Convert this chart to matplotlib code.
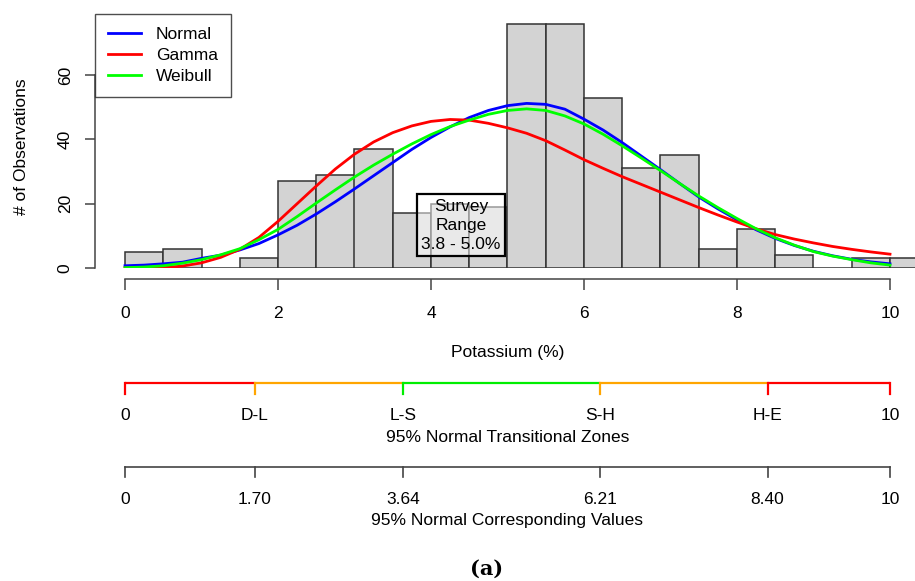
import numpy as np
import matplotlib
matplotlib.use("Agg")
import matplotlib.pyplot as plt

plt.rcParams['font.family'] = ['Liberation Sans', 'DejaVu Sans']

# histogram of potassium (%), bin width 0.5
bin_edges = [0, 0.5, 1, 1.5, 2, 2.5, 3, 3.5, 4, 4.5, 5, 5.5, 6, 6.5, 7, 7.5, 8, 8.5, 9, 9.5, 10, 10.5]
counts = [5, 6, 0, 3, 27, 29, 37, 17, 20, 19, 76, 76, 53, 31, 35, 6, 12, 4, 0, 3, 3]

# fitted curves, x = 0..10 step 0.25
curve_x = [i * 0.25 for i in range(41)]
normal_y = [0.7, 0.9, 1.3, 1.8, 3.0, 4.0, 5.6, 7.6, 10.3, 13.3, 16.8, 20.6, 24.6, 28.7, 32.8,
            36.9, 40.6, 43.9, 46.8, 49.0, 50.5, 51.2, 50.9, 49.4, 46.3, 42.9, 39.0, 34.8, 30.6,
            26.3, 22.1, 18.4, 15.0, 11.9, 9.2, 7.0, 5.2, 3.8, 2.7, 1.9, 1.3]
gamma_y = [0.0, 0.0, 0.1, 0.6, 1.6, 3.3, 5.8, 9.5, 14.5, 20.0, 25.5, 30.8, 35.4, 39.2, 42.1,
           44.2, 45.6, 46.2, 46.0, 45.0, 43.6, 41.9, 39.6, 36.7, 33.7, 31.0, 28.4, 26.0, 23.6,
           21.2, 18.8, 16.5, 14.3, 12.2, 10.4, 9.0, 7.8, 6.7, 5.8, 5.0, 4.3]
weibull_y = [0.1, 0.3, 0.7, 1.5, 2.6, 4.1, 6.0, 8.8, 12.0, 16.0, 20.2, 24.3, 28.3, 32.0, 35.4,
             38.6, 41.5, 44.0, 46.0, 47.8, 49.0, 49.5, 49.0, 47.3, 44.8, 41.6, 38.0, 34.2, 30.3,
             26.3, 22.4, 18.8, 15.4, 12.2, 9.4, 7.1, 5.1, 3.7, 2.6, 1.6, 0.9]

# transitional zones
zone_pos = [0, 1.70, 3.64, 6.21, 8.40, 10]
zone_labels = ['0', 'D-L', 'L-S', 'S-H', 'H-E', '10']
value_labels = ['0', '1.70', '3.64', '6.21', '8.40', '10']
seg_colors = ['#FF0000', '#FFA500', '#00EE00', '#FFA500', '#FF0000']
tick_colors = ['#FF0000', '#FFA500', '#00EE00', '#FFA500', '#FF0000', '#FF0000']

W, H = 915, 581
fig = plt.figure(figsize=(W / 100, H / 100), dpi=100)

# pixel geometry
x0_px, unit_px = 125, 76.5
ax_left, ax_right = 95, 915
xlim = ((ax_left - x0_px) / unit_px, (ax_right - x0_px) / unit_px)
y0_px, yunit = 268, 64.3 / 20
ax_top = 5
ylim = (0, (y0_px - ax_top) / yunit)

ax = fig.add_axes([ax_left / W, 1 - y0_px / H, (ax_right - ax_left) / W, (y0_px - ax_top) / H])
ax.set_xlim(*xlim)
ax.set_ylim(*ylim)

ax.bar(bin_edges[:-1], counts, width=0.5, align='edge', color='#D3D3D3',
       edgecolor='#333333', linewidth=1.1, zorder=1)

l1, = ax.plot(curve_x, normal_y, color='#0000FF', lw=2.0, zorder=3, label='Normal')
l2, = ax.plot(curve_x, gamma_y, color='#FF0000', lw=2.0, zorder=3, label='Gamma')
l3, = ax.plot(curve_x, weibull_y, color='#00FF00', lw=2.0, zorder=4, label='Weibull')

for s in ['top', 'right']:
    ax.spines[s].set_visible(False)
ax.spines['left'].set_bounds(0, 60)
ax.spines['bottom'].set_bounds(0, 10)
ax.spines['bottom'].set_position(('outward', 8))
for s in ['left', 'bottom']:
    ax.spines[s].set_color('#444444')
    ax.spines[s].set_linewidth(1.1)
ax.set_xticks([0, 2, 4, 6, 8, 10])
ax.set_yticks([0, 20, 40, 60])
ax.tick_params(axis='x', length=8, width=1.1, color='#444444', pad=11, labelsize=12.5)
ax.tick_params(axis='y', length=7, width=1.1, color='#444444', pad=9, labelsize=12.5)
for t in ax.get_yticklabels():
    t.set_rotation(90)
    t.set_va('center')

fig.text(22 / W, 1 - 147 / H, '# of Observations', rotation=90, ha='center', va='center', fontsize=12.5)
fig.text(507.5 / W, 1 - 353 / H, 'Potassium (%)', ha='center', va='center', fontsize=12.5)

leg = ax.legend(handles=[l1, l2, l3], loc='upper left',
                bbox_to_anchor=(ax_left / W, 1 - 14 / H), bbox_transform=fig.transFigure,
                fontsize=12.5, frameon=True, fancybox=False, borderaxespad=0,
                borderpad=0.75, handlelength=1.9, handletextpad=0.85, labelspacing=0.32)
leg.get_frame().set_edgecolor('#222222')
leg.get_frame().set_linewidth(1.0)
leg.set_zorder(10)

ax.text(4.39, 13.3, 'Survey\nRange\n3.8 - 5.0%', ha='center', va='center', fontsize=12.5,
        linespacing=1.35, zorder=6,
        bbox=dict(boxstyle='square,pad=0.25', facecolor=(1, 1, 1, 0.5), edgecolor='black', linewidth=1.6))

# lower scales drawn in an overlay axes with data x and pixel y
sc = fig.add_axes([ax_left / W, 0, (ax_right - ax_left) / W, 1])
sc.set_xlim(*xlim)
sc.set_ylim(H, 0)
sc.axis('off')

line_y, tick_len = 383, 11
for i in range(len(seg_colors)):
    sc.plot([zone_pos[i], zone_pos[i + 1]], [line_y, line_y], color=seg_colors[i], lw=1.6,
            solid_capstyle='butt')
for p, c, lab in zip(zone_pos, tick_colors, zone_labels):
    sc.plot([p, p], [line_y, line_y + tick_len], color=c, lw=1.6)
    sc.text(p, 416, lab, ha='center', va='center', fontsize=12.5)
sc.text(5, 437, '95% Normal Transitional Zones', ha='center', va='center', fontsize=12.5)

line2_y = 467
sc.plot([zone_pos[0], zone_pos[-1]], [line2_y, line2_y], color='#444444', lw=1.2)
for p, lab in zip(zone_pos, value_labels):
    sc.plot([p, p], [line2_y, line2_y + 10], color='#444444', lw=1.2)
    sc.text(p, 499, lab, ha='center', va='center', fontsize=12.5)
sc.text(5, 520, '95% Normal Corresponding Values', ha='center', va='center', fontsize=12.5)

fig.text(487 / W, 1 - 569 / H, '(a)', ha='center', va='center', fontsize=15,
         fontweight='bold', family=['DejaVu Serif'])

fig.savefig('out.png', dpi=100)
